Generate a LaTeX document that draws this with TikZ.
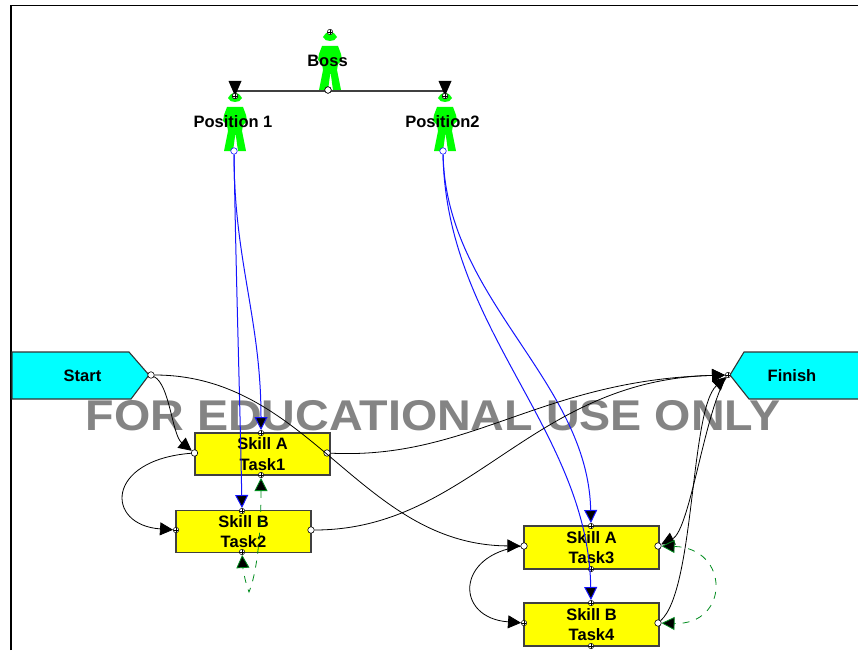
\documentclass[tikz,border=0pt]{standalone}
\usepackage{fontspec}
\setmainfont{Liberation Sans}
\usetikzlibrary{arrows.meta}
\definecolor{figgreen}{RGB}{0,255,0}
\definecolor{flagcyan}{RGB}{0,255,255}
\definecolor{boxyellow}{RGB}{255,255,0}
\definecolor{wmgray}{RGB}{132,132,132}
\definecolor{dashgreen}{RGB}{0,140,30}
\definecolor{linkblue}{RGB}{20,20,255}
\newcommand{\personfig}[2]{%
  \fill[figgreen,shift={(#1,#2)}] (-7,-9) .. controls (-6,-11) and (-4,-14) .. (0,-14) .. controls (4,-14) and (6,-11) .. (7,-9) .. controls (6,-6) and (3,-5) .. (0,-5) .. controls (-3,-5) and (-6,-6) .. (-7,-9) -- cycle;
  \fill[figgreen,shift={(#1,#2)}] (-8,0) -- (8,0) -- (11,8) -- (12,14) -- (8,18) -- (7,24) -- (11,44) -- (3,44) -- (0.5,26) -- (-2,44) -- (-11,44) -- (-7,24) -- (-8,18) -- (-12,14) -- (-11,8) -- cycle;
}
\tikzset{
  frameline/.style={black,line width=1.3pt},
  taskbox/.style={draw=black!75,line width=1.1pt,fill=boxyellow,minimum width=135pt,align=center,inner sep=0pt,font=\bfseries\fontsize{16.5}{20.5}\selectfont},
  flag/.style={draw=black!80,line width=1.1pt,fill=flagcyan},
  flagtext/.style={font=\bfseries\fontsize{16.5}{17}\selectfont,inner sep=0pt},
  personlabel/.style={font=\bfseries\fontsize{16.5}{17}\selectfont,inner sep=0pt},
  port/.style={circle,draw=black,fill=white,line width=.6pt,minimum size=6.5pt,inner sep=0pt},
  smallport/.style={circle,draw=black,fill=white,line width=.5pt,minimum size=5.5pt,inner sep=0pt,
    path picture={\draw[line width=.5pt] (path picture bounding box.north)--(path picture bounding box.south) (path picture bounding box.west)--(path picture bounding box.east);}},
  blueport/.style={port,draw=linkblue},
  tiph/.style={-{Triangle[length=13pt,width=13pt,fill=black]}},
  bothh/.style={{Triangle[length=13pt,width=13pt,fill=black]}-{Triangle[length=13pt,width=13pt,fill=black]}},
  blink/.style={draw=black,line width=.8pt,tiph},
  bluelink/.style={draw=linkblue,line width=1pt,-{Triangle[length=13pt,width=13pt,fill=black]}},
  greenlink/.style={draw=dashgreen,line width=.8pt,dash pattern=on 7pt off 7pt,bothh},
  orgline/.style={draw=black!75,line width=1.1pt},
  orghead/.style={fill=black},
}
\begin{document}
\begin{tikzpicture}[x=1pt,y=-1pt]
\useasboundingbox (0,0) rectangle (858,650);
\fill[white] (0,0) rectangle (858,650);
\draw[frameline] (11,650) -- (11,5.5) -- (858,5.5);

% watermark
\node[text=wmgray,font=\bfseries\fontsize{43}{43}\selectfont,inner sep=0pt,anchor=center,xscale=1.085] (wm) at (433,416) {FOR EDUCATIONAL USE ONLY};

% people
\personfig{330}{46}
\personfig{235}{107}
\personfig{445}{107}
\node[personlabel] (boss) at (327.5,60.5) {Boss};
\node[personlabel] (pos1) at (233,122) {Position 1};
\node[personlabel] (pos2) at (442.5,122) {Position2};

% flags
\draw[flag] (12,352) -- (129,352) -- (149,375) -- (131,399) -- (12,399) -- cycle;
\draw[flag] (858,352) -- (744,352) -- (730,375) -- (749,399) -- (858,399);
\node[flagtext] (start) at (82.5,375.5) {Start};
\node[flagtext] (finish) at (792,375.5) {Finish};

% tasks
\node[taskbox,minimum height=42pt] (t1) at (262.5,454) {Skill A\\Task1};
\node[taskbox,minimum height=42pt] (t2) at (243.5,531.5) {Skill B\\Task2};
\node[taskbox,minimum height=43pt] (t3) at (591.5,547.5) {Skill A\\Task3};
\node[taskbox,minimum height=43pt] (t4) at (591.5,624.5) {Skill B\\Task4};

% ports
\node[smallport] (bossin) at (330,32) {};
\node[port] (bossout) at (328,90) {};
\node[smallport] (p1in) at (235,96) {};
\node[smallport] (p2in) at (445,96) {};
\node[blueport] (p1out) at (234,151) {};
\node[blueport] (p2out) at (443,151) {};
\node[port] (startout) at (151,375) {};
\node[smallport] (finishin) at (728,375) {};
\node[port] (t1l) at (194.5,453) {};
\node[port] (t1r) at (327,453) {};
\node[smallport] (t1t) at (261,433) {};
\node[smallport] (t1b) at (261,475) {};
\node[smallport] (t2l) at (176,530) {};
\node[port] (t2r) at (311,530) {};
\node[smallport] (t2t) at (242,511) {};
\node[smallport] (t2b) at (242,552) {};
\node[port] (t3l) at (524,546) {};
\node[port] (t3r) at (658,546) {};
\node[smallport] (t3t) at (591,526) {};
\node[smallport] (t3b) at (591,569) {};
\node[smallport] (t4l) at (524,623) {};
\node[port] (t4r) at (658,623) {};
\node[smallport] (t4t) at (591,603) {};
\node[smallport] (t4b) at (591,646) {};

% org chart
\draw[orgline] (p1in) -- (235,91) -- (445,91) -- (p2in);
\fill[orghead] (228.5,81) -- (241.5,81) -- (235,96) -- cycle;
\fill[orghead] (438.5,81) -- (451.5,81) -- (445,96) -- cycle;
\node[smallport] at (p1in) {};
\node[smallport] at (p2in) {};
\node[port] at (bossout) {};

% blue links
\path[bluelink] (p1out) .. controls (236,280) and (240,400) .. (t2t);
\path[bluelink] (p1out) .. controls (234,260) and (261,320) .. (t1t);
\path[bluelink] (p2out) .. controls (446,300) and (588,380) .. (t3t);
\path[bluelink] (p2out) .. controls (446,330) and (588,430) .. (t4t);

% black links
\path[blink] (startout) .. controls (170,385) and (172,435) .. (t1l);
\path[blink] (startout) .. controls (310,375) and (360,545) .. (t3l);
\path[blink] (t1r) .. controls (470,460) and (540,380) .. (finishin);
\path[blink] (t2r) .. controls (470,530) and (530,380) .. (finishin);
\path[blink] (t1l) .. controls (105,460) and (105,525) .. (t2l);
\path[blink] (t3l) .. controls (455,555) and (455,618) .. (t4l);
\path[blink] (finishin) .. controls (705,410) and (690,530) .. (t3r);
\path[blink] (t4r) .. controls (695,590) and (690,410) .. (finishin);

% green links
\path[greenlink] (t1b) .. controls (261,540) and (256,575) .. (249,592) .. controls (246,585) and (243,570) .. (t2b);
\path[greenlink] (t3r) .. controls (730,548) and (730,625) .. (t4r);
\end{tikzpicture}
\end{document}
